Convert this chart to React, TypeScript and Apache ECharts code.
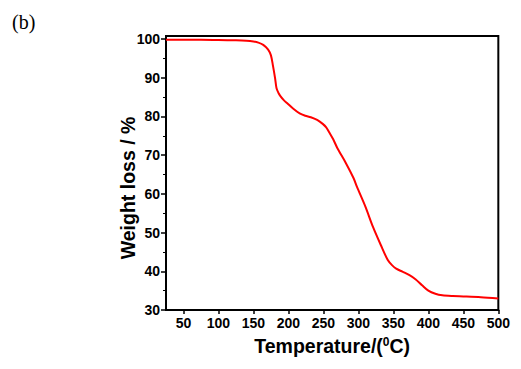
import React, { useEffect, useRef } from "react";
import * as echarts from "echarts";

const temperature = [25, 50, 75, 100, 125, 140, 150, 157, 164, 171, 175, 178, 181, 183, 186, 188, 193, 199, 207, 216, 224, 232, 241, 249, 254, 258, 264, 270, 282, 293, 298, 310, 321, 332, 342, 348, 354, 363, 373, 382, 391, 400, 410, 420, 435, 450, 475, 500];
const weight = [99.8, 99.8, 99.8, 99.75, 99.7, 99.6, 99.4, 99.1, 98.5, 97.3, 95.8, 93.0, 89.8, 87.3, 86.0, 85.4, 84.3, 83.3, 82.0, 80.8, 80.2, 79.8, 79.1, 78.1, 77.2, 76.0, 74.1, 71.8, 68.0, 64.1, 61.8, 56.7, 51.4, 46.8, 42.9, 41.6, 40.7, 39.9, 39.0, 37.9, 36.4, 35.0, 34.2, 33.8, 33.6, 33.5, 33.3, 33.0];

const xTicks = [50, 100, 150, 200, 250, 300, 350, 400, 450, 500];
const yTicks = [30, 40, 50, 60, 70, 80, 90, 100];
const yMinorTicks = [35, 45, 55, 65, 75, 85, 95];

export default function App() {
  const ref = useRef<HTMLDivElement>(null);
  useEffect(() => {
    const chart = echarts.init(ref.current!, null, { renderer: "svg" });
    const labelFont = { fontFamily: "Liberation Sans", fontWeight: "bold", fontSize: 14, color: "#000" };
    chart.setOption({
      animation: false,
      backgroundColor: "#fff",
      grid: { left: 158, top: 28, right: 8, bottom: 47, show: true, borderColor: "#000", borderWidth: 2, backgroundColor: "transparent" },
      graphic: [
        { type: "text", left: 4, top: 4, style: { text: "(b)", font: "20px 'Liberation Serif'", fill: "#000" } },
        {
          type: "text",
          x: 120,
          y: 180,
          rotation: Math.PI / 2,
          style: { text: "Weight loss / %", font: "bold 19.5px 'Liberation Sans'", fill: "#000", align: "center", verticalAlign: "middle" },
        },
      ],
      xAxis: {
        type: "value",
        min: 25,
        max: 500,
        name: "Temperature/({sup|0}C)",
        nameLocation: "middle",
        nameGap: 26,
        nameTextStyle: {
          fontFamily: "Liberation Sans", fontWeight: "bold", fontSize: 19.5, color: "#000",
          rich: { sup: { fontFamily: "Liberation Sans", fontWeight: "bold", fontSize: 12, verticalAlign: "top", padding: [0, 0, 8, 0], color: "#000" } },
        },
        axisLine: { lineStyle: { color: "#000", width: 2 } },
        axisTick: { customValues: xTicks, length: 4, lineStyle: { color: "#000", width: 1.5 } },
        axisLabel: { customValues: xTicks, margin: 6, ...labelFont },
        splitLine: { show: false },
      },
      yAxis: [
        {
          type: "value",
          min: 30,
          max: 100.8,
          axisLine: { lineStyle: { color: "#000", width: 2 } },
          axisTick: { customValues: yTicks, length: 5, lineStyle: { color: "#000", width: 1.5 } },
          axisLabel: { customValues: yTicks, margin: 6, ...labelFont },
          splitLine: { show: false },
        },
        {
          type: "value",
          min: 30,
          max: 100.8,
          position: "left",
          axisLine: { show: false },
          axisTick: { customValues: yMinorTicks, length: 3, lineStyle: { color: "#000", width: 1 } },
          axisLabel: { show: false },
          splitLine: { show: false },
        },
      ],
      series: [
        {
          type: "line",
          data: temperature.map((t, i) => [t, weight[i]]),
          smooth: 0.3,
          showSymbol: false,
          lineStyle: { color: "#ff0000", width: 2 },
          yAxisIndex: 0,
        },
      ],
    });
    return () => chart.dispose();
  }, []);
  return <div ref={ref} style={{ width: 505, height: 353 }} />;
}
